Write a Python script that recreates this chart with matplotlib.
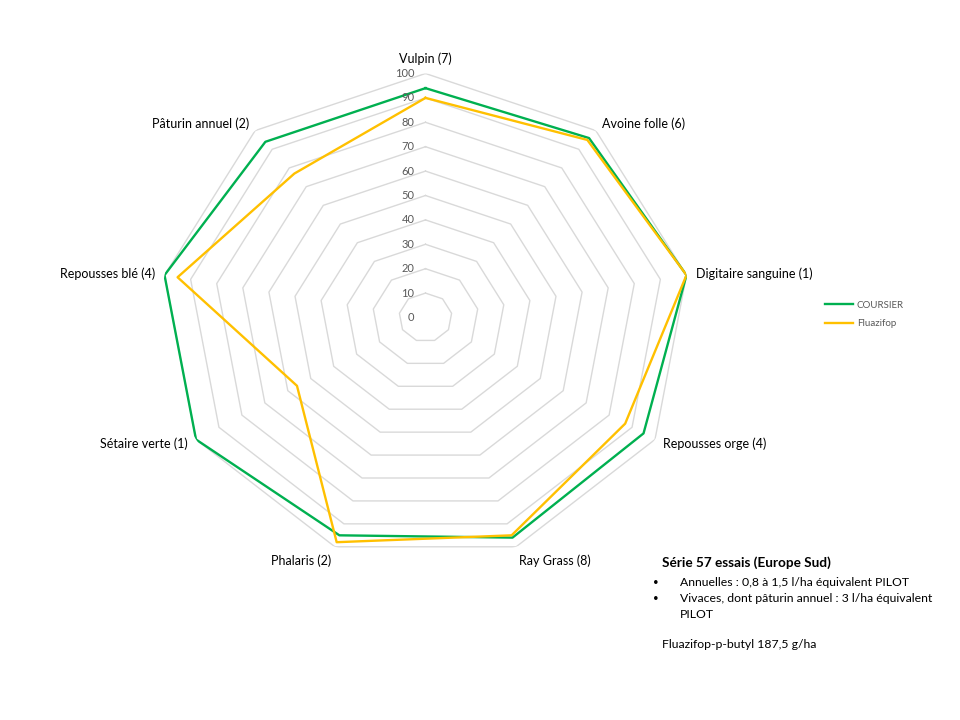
import numpy as np
import matplotlib
matplotlib.use("Agg")
import matplotlib.pyplot as plt

plt.rcParams['font.family'] = ['Lato', 'DejaVu Sans']

categories = ["Vulpin (7)", "Avoine folle (6)", "Digitaire sanguine (1)", "Repousses orge (4)",
              "Ray Grass (8)", "Phalaris (2)", "Sétaire verte (1)", "Repousses blé (4)",
              "Pâturin annuel (2)"]
coursier = [94, 96, 100, 95, 96, 95, 100, 100, 94]
fluazifop = [90, 95, 100, 87, 95, 98, 56, 95, 77]
series_names = ["COURSIER", "Fluazifop"]
ring_levels = [10, 20, 30, 40, 50, 60, 70, 80, 90, 100]
tick_labels = ["0", "10", "20", "30", "40", "50", "60", "70", "80", "90", "100"]

W, H = 960, 720
fig = plt.figure(figsize=(W / 100, H / 100), dpi=100)
cx, cy, rx, ry = 425.5, 317.5, 265, 244
ax = fig.add_axes([(cx - rx) / W, (H - cy - ry) / H, 2 * rx / W, 2 * ry / H], projection='polar')
ax.set_aspect('auto')
ax.set_theta_zero_location('N')
ax.set_theta_direction(-1)
ax.set_ylim(0, 100)
ax.set_xticks([])
ax.set_yticks([])
ax.grid(False)
ax.spines['polar'].set_visible(False)
ax.patch.set_visible(False)

n = len(categories)
theta = np.linspace(0, 2 * np.pi, n, endpoint=False)
theta_c = np.append(theta, theta[0])

for lev in ring_levels:
    ax.plot(theta_c, [lev] * (n + 1), color='#D9D9D9', lw=1.0, zorder=1)

l1, = ax.plot(theta_c, coursier + coursier[:1], color='#00B050', lw=1.7, zorder=3)
l2, = ax.plot(theta_c, fluazifop + fluazifop[:1], color='#FFC000', lw=1.7, zorder=4)

# radial tick labels
for i, lab in enumerate(tick_labels):
    ax.annotate(lab, xy=(0, i * 10), xytext=(-8, 0), textcoords='offset points',
                ha='right', va='center', fontsize=8, color='#595959')

# category labels
for t, lab in zip(theta, categories):
    s, c = np.sin(t), np.cos(t)
    if s > 0.1:
        ha = 'left'
    elif s < -0.1:
        ha = 'right'
    else:
        ha = 'center'
    if c > 0.9:
        va = 'bottom'
    elif c < -0.9:
        va = 'top'
    else:
        va = 'center'
    ax.annotate(lab, xy=(t, 100), xytext=(7 * s, 6 * c), textcoords='offset points',
                ha=ha, va=va, fontsize=9, color='#000000')

fig.legend([l1, l2], series_names, loc='upper left', bbox_to_anchor=(816 / W, 1 - 292 / H),
           frameon=False, fontsize=7, labelcolor='#595959', handlelength=2.9,
           handletextpad=0.4, labelspacing=1.0)

fig.text(662 / W, 1 - 563 / H, "Série 57 essais (Europe Sud)", fontsize=9.8, fontweight='bold',
         ha='left', va='center')
bullets = ["Annuelles : 0,8 à 1,5 l/ha équivalent PILOT",
           "Vivaces, dont pâturin annuel : 3 l/ha équivalent"]
for i, b in enumerate(bullets):
    y = 582 + 16 * i
    fig.text(653 / W, 1 - y / H, "•", fontsize=7, ha='left', va='center')
    fig.text(680 / W, 1 - y / H, b, fontsize=8.8, ha='left', va='center')
fig.text(680 / W, 1 - 614 / H, "PILOT", fontsize=8.8, ha='left', va='center')
fig.text(662 / W, 1 - 645 / H, "Fluazifop-p-butyl 187,5 g/ha", fontsize=8.8, ha='left', va='center')

fig.savefig("out.png", dpi=100)
